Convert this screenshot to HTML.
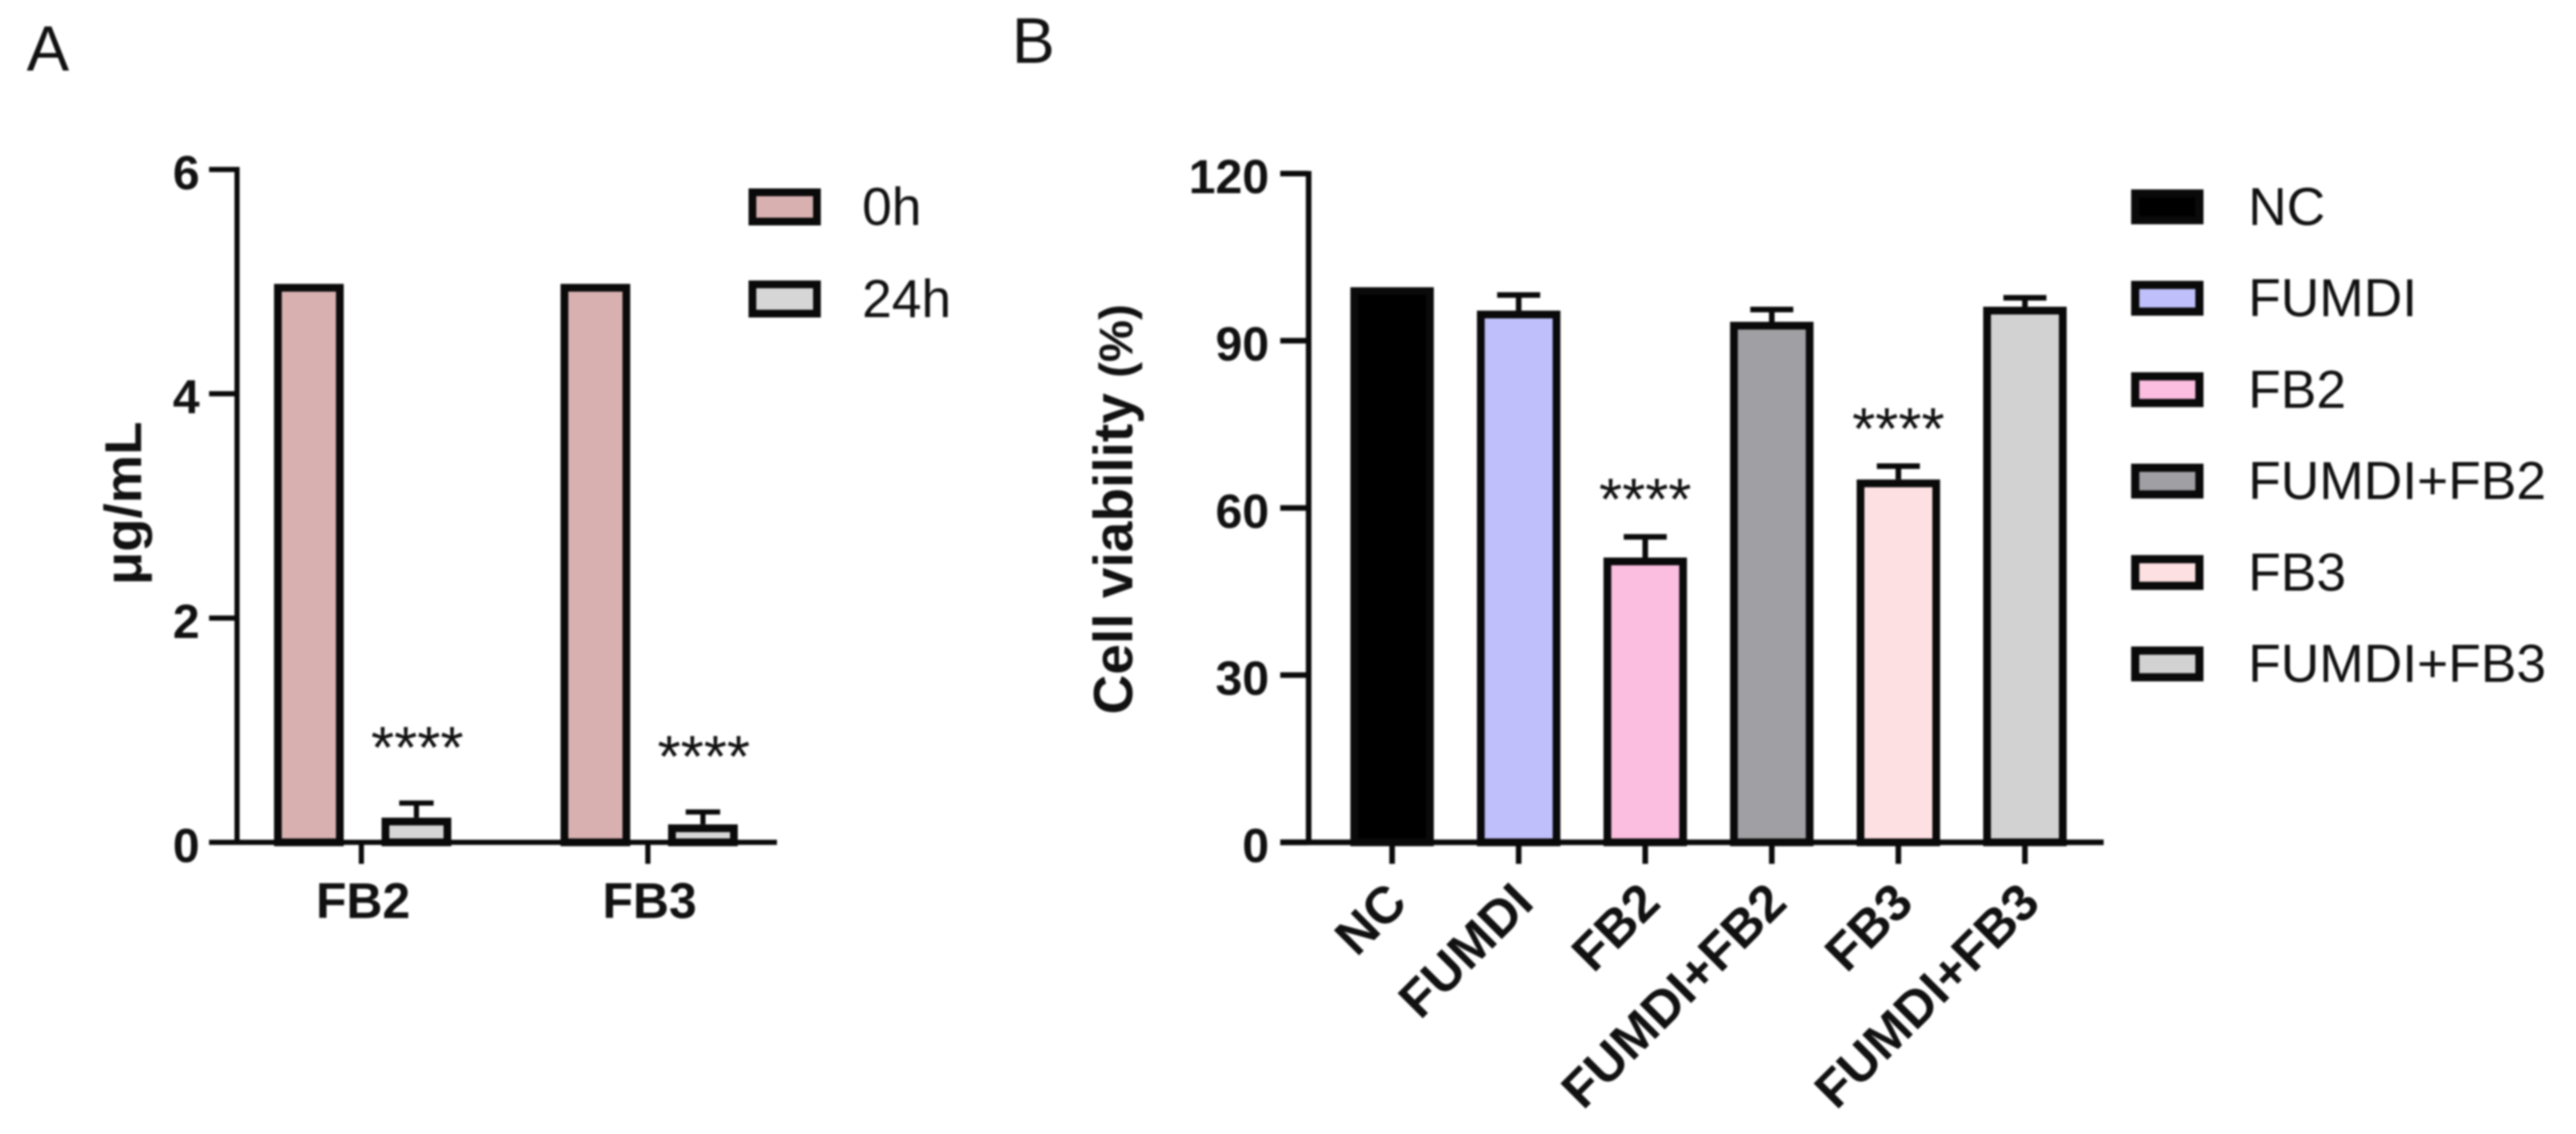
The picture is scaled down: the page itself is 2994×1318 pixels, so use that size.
<!DOCTYPE html>
<html>
<head>
<meta charset="utf-8">
<title>Panels A and B bar charts</title>
<style>
html,body{margin:0;padding:0;background:#fff;}
#fig{display:block;width:2994px;height:1318px;filter:blur(1.1px);}
text{font-family:"Liberation Sans",sans-serif;fill:#111;}
.b{font-weight:bold;}
</style>
</head>
<body>
<svg id="fig" xmlns="http://www.w3.org/2000/svg" width="2994" height="1318" viewBox="0 0 2994 1318">
<rect width="2994" height="1318" fill="#ffffff"></rect>
<text x="31" y="82" font-size="74" fill="#222">A</text>
<text x="1176" y="73" font-size="75" fill="#222">B</text>
<g id="chartA"></g>
<g id="chartB"></g>
</svg>
<script>
// ---- Panel A data ----
const aCategories = ['FB2', 'FB3'];
const aSeriesNames = ['0h', '24h'];
const aSeriesColors = ['#d8b0b0', '#d6d6d6'];
const a0hValues = [4.98, 4.98];
const a24hValues = [0.22, 0.16];
const a24hErrors = [0.13, 0.11];
const aSignificance = ['****', '****'];
const aTickValues = [0, 2, 4, 6];
const aTickLabels = ['0', '2', '4', '6'];

// ---- Panel B data ----
const bCategories = ['NC', 'FUMDI', 'FB2', 'FUMDI+FB2', 'FB3', 'FUMDI+FB3'];
const bColors = ['#000000', '#bfbffb', '#fbbde0', '#a09fa3', '#fde0e2', '#d2d2d2'];
const bValues = [99.6, 95.4, 51.1, 93.4, 65.1, 96.1];
const bErrors = [0, 2.8, 3.7, 2.2, 2.4, 1.6];
const bSignificance = ['', '', '****', '', '****', ''];
const bTickValues = [0, 30, 60, 90, 120];
const bTickLabels = ['0', '30', '60', '90', '120'];

const NS = 'http://www.w3.org/2000/svg';
function mk(tag, parent, attrs) {
  const el = document.createElementNS(NS, tag);
  for (const k in attrs) el.setAttribute(k, attrs[k]);
  parent.appendChild(el);
  return el;
}
function line(parent, x1, y1, x2, y2, w) {
  return mk('line', parent, {x1: x1, y1: y1, x2: x2, y2: y2, stroke: '#0a0a0a', 'stroke-width': w});
}

// axis functions
function yA(v) { return 979 - v * (979 - 197) / 6; }
function yB(v) { return 979 - v * (979 - 201.7) / 120; }
function xACat(i) { return 420 + i * 333; }
function xBCat(i) { return 1618 + i * 147.1; }

// ---------- PANEL A ----------
const gA = document.getElementById('chartA');
function barOuter(parent, xc, w, yTop, y0, fill, bw) {
  return mk('rect', parent, {
    x: xc - w / 2 + bw / 2, y: yTop + bw / 2,
    width: w - bw, height: Math.max(0, y0 - yTop - bw / 2),
    fill: fill, stroke: '#0a0a0a', 'stroke-width': bw
  });
}
aCategories.forEach(function (cat, i) {
  const b0 = barOuter(gA, xACat(i) - 61, 81, yA(a0hValues[i]), yA(0), aSeriesColors[0], 9);
  
  

  const xc = xACat(i) + 64;
  const top = yA(a24hValues[i]);
  const capY = yA(a24hValues[i] + a24hErrors[i]);
  const stem = line(gA, xc, top, xc, capY, 6);
  
  
  const cap = line(gA, xc - 20, capY, xc + 20, capY, 6);
  
  

  const b1 = barOuter(gA, xc, 81, top, yA(0), aSeriesColors[1], 9);
  
  

  const star = mk('text', gA, {x: xc + 1, y: capY - 41, 'text-anchor': 'middle', 'font-size': 69});
  star.textContent = aSignificance[i];
  
  

  const tick = line(gA, xACat(i), yA(0), xACat(i), 1004, 6);
  
  

  const lab = mk('text', gA, {x: xACat(i) + 2, y: 1067, 'text-anchor': 'middle', 'font-size': 58, 'class': 'b'});
  lab.textContent = cat;
  
  
});
const axAY = line(gA, 275.5, yA(6) - 3, 275.5, yA(0) + 3, 6);


const axAX = line(gA, 243, yA(0), 903, yA(0), 6);


aTickValues.forEach(function (v, i) {
  const t = line(gA, 243, yA(v), 275, yA(v), 6);
  
  
  const l = mk('text', gA, {x: 232, y: yA(v) + 23, 'text-anchor': 'end', 'font-size': 56, 'class': 'b'});
  l.textContent = aTickLabels[i];
  
  
});
const titleA = mk('text', gA, {transform: 'translate(164,585) rotate(-90)', 'text-anchor': 'middle', 'font-size': 60, 'class': 'b', textLength: 190, lengthAdjust: 'spacingAndGlyphs'});
titleA.textContent = 'μg/mL';


aSeriesNames.forEach(function (name, i) {
  const yc = 240.5 + i * 107;
  const s = mk('rect', gA, {x: 874.5, y: yc - 17, width: 75, height: 34, fill: aSeriesColors[i], stroke: '#0a0a0a', 'stroke-width': 9});
  
  
  const l = mk('text', gA, {x: 1002, y: yc + 21, 'font-size': 62, fill: '#333'});
  l.textContent = name;
  
  
});

// ---------- PANEL B ----------
const gB = document.getElementById('chartB');
bCategories.forEach(function (cat, i) {
  const slug = cat.toLowerCase().replace('+', '-');
  const xc = xBCat(i);
  const top = yB(bValues[i]);
  if (bErrors[i] > 0) {
    const capY = yB(bValues[i] + bErrors[i]);
    const stem = line(gB, xc, top, xc, capY, 6.5);
    
    
    const cap = line(gB, xc - 25, capY, xc + 25, capY, 6.5);
    
    
  }
  const bar = barOuter(gB, xc, 97, top, yB(0), bColors[i], 9);
  
  

  if (bSignificance[i]) {
    const star = mk('text', gB, {x: xc, y: yB(bValues[i] + bErrors[i]) - 20, 'text-anchor': 'middle', 'font-size': 69});
    star.textContent = bSignificance[i];
    
    
  }
  const tick = line(gB, xc, yB(0), xc, 1004, 6.5);
  
  

  const lab = mk('text', gB, {transform: 'translate(' + (xc + 20) + ',1052) rotate(-45)', 'text-anchor': 'end', 'font-size': 60, 'class': 'b'});
  lab.textContent = cat;
  
  

  const yc = 240.4 + i * 106.25;
  const s = mk('rect', gB, {x: 2481.7, y: yc - 15.5, width: 74.6, height: 31, fill: bColors[i], stroke: '#0a0a0a', 'stroke-width': 9.5});
  
  
  const l = mk('text', gB, {x: 2613, y: yc + 21, 'font-size': 62, fill: '#333'});
  l.textContent = cat;
  
  
});
const axBY = line(gB, 1521, yB(120) - 3, 1521, yB(0) + 3, 6.5);


const axBX = line(gB, 1488, yB(0), 2445, yB(0), 6.5);


bTickValues.forEach(function (v, i) {
  const t = line(gB, 1488, yB(v), 1520, yB(v), 6.5);
  
  
  const l = mk('text', gB, {x: 1475, y: yB(v) + 23, 'text-anchor': 'end', 'font-size': 56, 'class': 'b'});
  l.textContent = bTickLabels[i];
  
  
});
const titleB = mk('text', gB, {transform: 'translate(1316,592) rotate(-90)', 'text-anchor': 'middle', 'font-size': 64, 'class': 'b'});
titleB.textContent = 'Cell viability ';


const pct = mk('tspan', titleB, {'font-size': 55});
pct.textContent = '(%)';


</script>
</body>
</html>
